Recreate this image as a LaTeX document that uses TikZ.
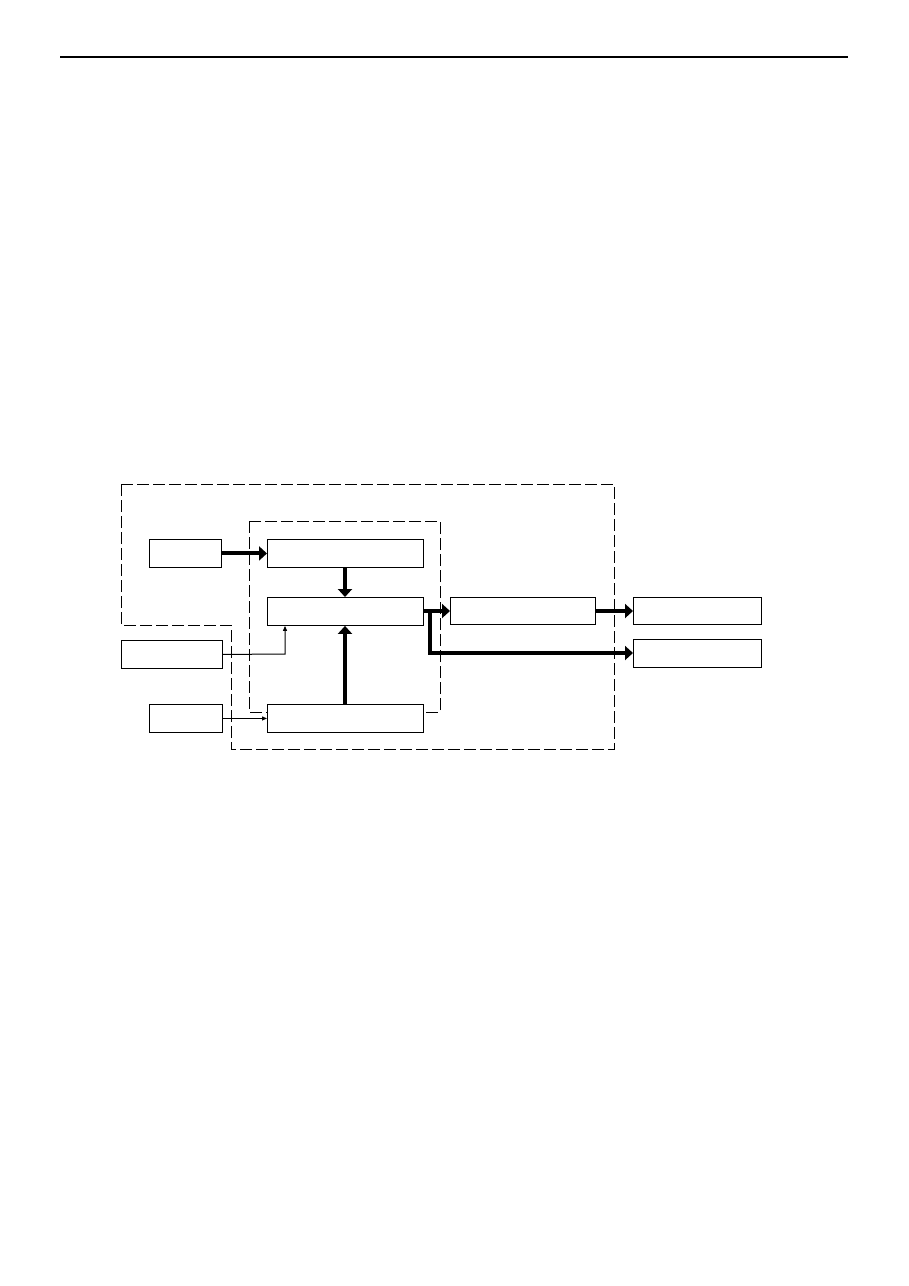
\documentclass[tikz,border=0pt]{standalone}
\usetikzlibrary{arrows.meta}
\begin{document}
\begin{tikzpicture}[x=1pt,y=-1pt,
  blk/.style={draw,line width=0.9pt,fill=white,minimum width=0pt,minimum height=0pt,inner sep=0pt,anchor=north west},
  thick arr/.style={line width=4pt,-{Triangle[length=8pt,width=14pt]}},
  thin arr/.style={line width=1pt,-{Triangle[length=5pt,width=4pt]}},
  region/.style={line width=0.8pt,dash pattern=on 12pt off 4pt}]
\useasboundingbox (0,0) rectangle (909,1286);
% header rule
\draw[line width=1.6pt] (60,57) coordinate (r1) -- (848,57) coordinate (r2);
% dashed regions
\draw[region] (121,484) -- (614,484) -- (614,749) -- (231,749) -- (231,625) -- (121,625) -- cycle;
\draw[region] (249,521) rectangle (440,712);
% boxes
\node[blk,minimum width=72pt,minimum height=28pt] (A) at (149,539) {};
\node[blk,minimum width=156pt,minimum height=28pt] (B) at (267,539) {};
\node[blk,minimum width=156pt,minimum height=28pt] (C) at (267,597) {};
\node[blk,minimum width=101pt,minimum height=28pt] (D) at (121,640) {};
\node[blk,minimum width=73pt,minimum height=28pt] (E) at (149,704) {};
\node[blk,minimum width=156pt,minimum height=28pt] (F) at (267,704) {};
\node[blk,minimum width=145pt,minimum height=27pt] (G) at (450,597) {};
\node[blk,minimum width=128pt,minimum height=27pt] (H) at (633,597) {};
\node[blk,minimum width=128pt,minimum height=28pt] (I) at (633,639) {};
% connectors
\draw[thick arr] (A.east) -- (B.west);
\draw[thick arr] (B.south -| 345,0) -- (C.north -| 345,0);
\draw[thick arr] (F.north -| 345,0) -- (C.south -| 345,0);
\draw[thick arr] (C.east |- 0,611) -- (G.west |- 0,611);
\draw[thick arr] (G.east |- 0,611) -- (H.west |- 0,611);
\coordinate (br) at (430,609);
\draw[thick arr] (br) -- (430,653) -- (I.west |- 0,653);
\draw[thin arr] (D.east) -- (285,654) -- (C.south -| 285,0);
\draw[thin arr] (E.east) -- (F.west);
\end{tikzpicture}
\end{document}
